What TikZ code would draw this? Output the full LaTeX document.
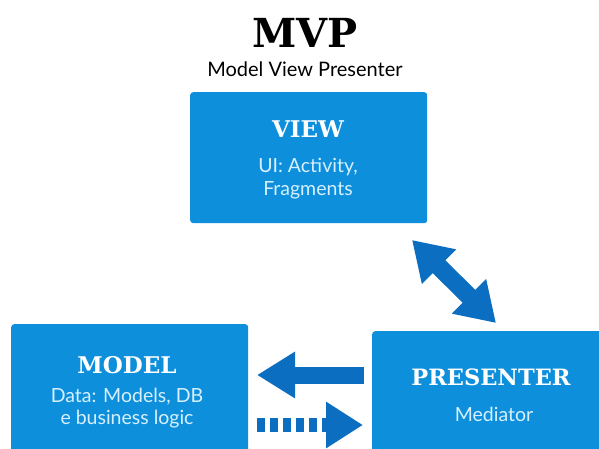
\documentclass[tikz,border=0pt]{standalone}
\usepackage{fontspec}
\setmainfont{Lato}
\newfontfamily\slabfont{DejaVu Serif}
\usetikzlibrary{arrows.meta}
\definecolor{boxblue}{HTML}{0E8FDC}
\definecolor{arrowblue}{HTML}{0B6EC0}
\definecolor{subtext}{HTML}{D6F0FF}
\tikzset{
  mvpbox/.style={draw=none, fill=boxblue, rounded corners=3pt, inner sep=0pt, anchor=north west},
  headtext/.style={text=white, font=\slabfont\bfseries\fontsize{23}{26}\selectfont, anchor=base, inner sep=0pt},
  subline/.style={text=subtext, font=\fontsize{19.5}{22}\selectfont, anchor=base, inner sep=0pt},
  bigarrow/.style={draw=arrowblue, line width=17pt, -{Triangle[length=38pt,width=44pt]}},
}
\begin{document}
\begin{tikzpicture}[x=1pt,y=-1pt]
\clip (0,0) rectangle (599,449);
\fill[white] (0,0) rectangle (599,449);
% boxes
\node[mvpbox, minimum width=237pt, minimum height=131pt] (view) at (190,92) {};
\node[mvpbox, minimum width=237pt, minimum height=140pt] (model) at (11,324) {};
\node[mvpbox, minimum width=240pt, minimum height=140pt] (presenter) at (372,331) {};
% titles
\node[anchor=base, inner sep=0pt, font=\slabfont\bfseries\fontsize{40}{44}\selectfont] (title) at (305,48) {MVP};
\node[anchor=base, inner sep=0pt, font=\fontsize{20}{23}\selectfont] (subtitle) at (305,77) {Model View Presenter};
% view text
\node[headtext] (viewh) at (308,138) {VIEW};
\node[subline] (view1) at (308,173) {UI: Activity,};
\node[subline] (view2) at (308,195) {Fragments};
% model text
\node[headtext] (modelh) at (127,373) {MODEL};
\node[subline] (model1) at (127,402) {Data: Models, DB};
\node[subline] (model2) at (127,424) {e business logic};
% presenter text
\node[headtext, font=\slabfont\bfseries\fontsize{22.5}{26}\selectfont] (presh) at (491,385) {PRESENTER};
\node[subline] (pres1) at (494,421) {Mediator};
% arrow endpoints
\coordinate (d1) at (412,240);
\coordinate (d2) at (496,323);
\coordinate (l1) at (364,375);
\coordinate (l2) at (257,375);
\coordinate (r1) at (257,425);
\coordinate (r2) at (363,425);
% arrows
\draw[draw=arrowblue, line width=18pt, {Triangle[length=38pt,width=46pt]}-{Triangle[length=38pt,width=46pt]}] (d1) -- (d2);
\draw[bigarrow] (l1) -- (l2);
\draw[draw=arrowblue, line width=14pt, dash pattern=on 8pt off 5pt, -{Triangle[length=37pt,width=44pt]}] (r1) -- (r2);
\end{tikzpicture}
\end{document}
